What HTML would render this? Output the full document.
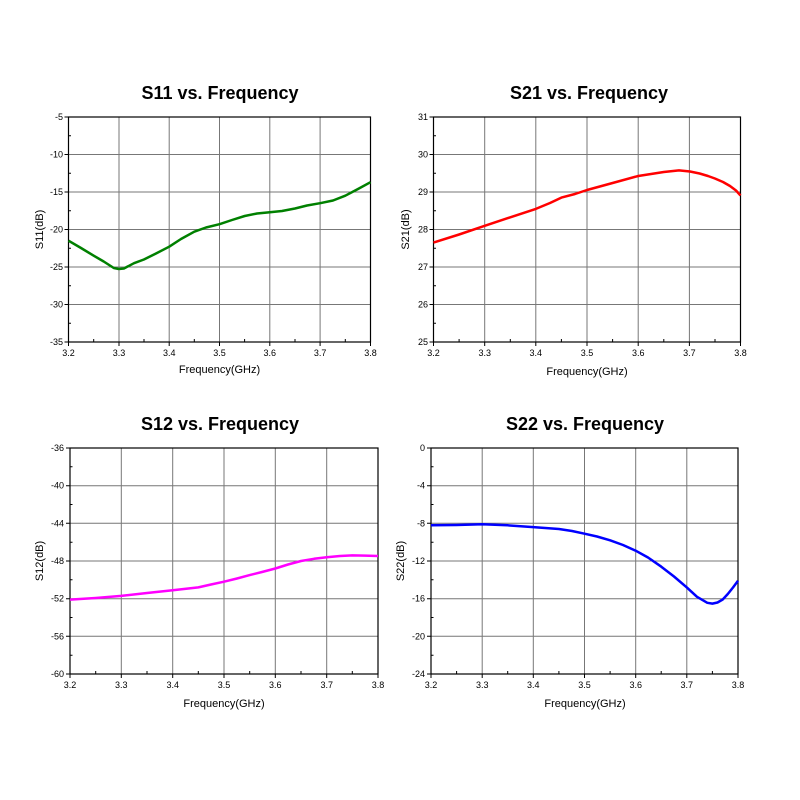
<!DOCTYPE html>
<html><head><style>body{margin:0;background:#fff}svg{display:block}text{font-family:"Liberation Sans",Arial,sans-serif}</style></head><body>
<svg width="800" height="800" xmlns="http://www.w3.org/2000/svg">
<g font-size="18" font-weight="bold" text-anchor="middle">
<text x="220" y="99">S11 vs. Frequency</text>
<text x="589" y="99">S21 vs. Frequency</text>
<text x="220" y="430">S12 vs. Frequency</text>
<text x="585" y="430">S22 vs. Frequency</text>
</g>

<!-- Plot 1 -->
<g stroke="#777" stroke-width="1">
<path d="M119,117V342M169.2,117V342M219.5,117V342M269.8,117V342M320.1,117V342M68.5,154.5H370.5M68.5,192H370.5M68.5,229.5H370.5M68.5,267H370.5M68.5,304.5H370.5"/>
</g>
<rect x="68.5" y="117" width="302" height="225" fill="none" stroke="#000" stroke-width="1.2"/>
<g stroke="#000"><path d="M64.5,117h4M64.5,154.5h4M64.5,192h4M64.5,229.5h4M64.5,267h4M64.5,304.5h4M64.5,342h4M68.5,135.75h2.5M68.5,173.25h2.5M68.5,210.75h2.5M68.5,248.25h2.5M68.5,285.75h2.5M68.5,323.25h2.5M68.5,342v4M119,342v4M169.2,342v4M219.5,342v4M269.8,342v4M320.1,342v4M370.5,342v4M93.7,342v-3M144,342v-3M194.3,342v-3M244.6,342v-3M295,342v-3M345.3,342v-3"/></g>
<g font-size="9" text-anchor="end"><text x="63" y="120">-5</text><text x="63" y="157.5">-10</text><text x="63" y="195">-15</text><text x="63" y="232.5">-20</text><text x="63" y="270">-25</text><text x="63" y="307.5">-30</text><text x="63" y="345">-35</text></g>
<g font-size="9" text-anchor="middle"><text x="68.5" y="356">3.2</text><text x="119" y="356">3.3</text><text x="169.2" y="356">3.4</text><text x="219.5" y="356">3.5</text><text x="269.8" y="356">3.6</text><text x="320.1" y="356">3.7</text><text x="370.5" y="356">3.8</text></g>
<text x="219.5" y="373" font-size="11" text-anchor="middle">Frequency(GHz)</text>
<text transform="translate(43,229.5) rotate(-90)" font-size="11" text-anchor="middle">S11(dB)</text>
<polyline fill="none" stroke="#008000" stroke-width="2.5" stroke-linejoin="round" points="68.5,240.7 81,248 93.7,255.7 103.7,261.5 113.8,268 118.8,269 123.9,268.5 134,263.2 143.9,259.5 156,253.5 169.2,246.7 181,239 194.3,231.7 206,227.5 219.5,224.2 232,220 244.7,216 257,213.5 269.8,212.2 282,211 295,208.5 307,205.5 320.1,203.2 333,200.5 345.3,195.7 358,189 370.5,182.2"/>

<!-- Plot 2 -->
<g stroke="#777" stroke-width="1">
<path d="M484.7,117V342M535.8,117V342M587,117V342M638.2,117V342M689.4,117V342M433.5,154.5H740.5M433.5,192H740.5M433.5,229.5H740.5M433.5,267H740.5M433.5,304.5H740.5"/>
</g>
<rect x="433.5" y="117" width="307" height="225" fill="none" stroke="#000" stroke-width="1.2"/>
<g stroke="#000"><path d="M429.5,117h4M429.5,154.5h4M429.5,192h4M429.5,229.5h4M429.5,267h4M429.5,304.5h4M429.5,342h4M433.5,135.75h2.5M433.5,173.25h2.5M433.5,210.75h2.5M433.5,248.25h2.5M433.5,285.75h2.5M433.5,323.25h2.5M433.5,342v4M484.7,342v4M535.8,342v4M587,342v4M638.2,342v4M689.4,342v4M740.5,342v4M459.1,342v-3M510.3,342v-3M561.4,342v-3M612.6,342v-3M663.8,342v-3M715,342v-3"/></g>
<g font-size="9" text-anchor="end"><text x="428" y="120">31</text><text x="428" y="157.5">30</text><text x="428" y="195">29</text><text x="428" y="232.5">28</text><text x="428" y="270">27</text><text x="428" y="307.5">26</text><text x="428" y="345">25</text></g>
<g font-size="9" text-anchor="middle"><text x="433.5" y="356">3.2</text><text x="484.7" y="356">3.3</text><text x="535.8" y="356">3.4</text><text x="587" y="356">3.5</text><text x="638.2" y="356">3.6</text><text x="689.4" y="356">3.7</text><text x="740.5" y="356">3.8</text></g>
<text x="587" y="375" font-size="11" text-anchor="middle">Frequency(GHz)</text>
<text transform="translate(409,229.5) rotate(-90)" font-size="11" text-anchor="middle">S21(dB)</text>
<polyline fill="none" stroke="#ff0000" stroke-width="2.5" stroke-linejoin="round" points="433.5,242.6 459.1,234.5 484.7,225.8 510.3,217.3 535.8,208.9 550,203 561.4,197.6 575,194 587,190 612.6,183 638.2,176 663.8,172 679,170.4 690,171.5 699.6,173.5 708,176 714.9,178.5 723,182 730,186 736,190.5 740.5,195.5"/>

<!-- Plot 3 -->
<g stroke="#777" stroke-width="1">
<path d="M121.3,448V674M172.7,448V674M224,448V674M275.3,448V674M326.7,448V674M70,485.7H378M70,523.3H378M70,561H378M70,598.7H378M70,636.3H378"/>
</g>
<rect x="70" y="448" width="308" height="226" fill="none" stroke="#000" stroke-width="1.2"/>
<g stroke="#000"><path d="M66,448h4M66,485.7h4M66,523.3h4M66,561h4M66,598.7h4M66,636.3h4M66,674h4M70,466.8h2.5M70,504.5h2.5M70,542.2h2.5M70,579.8h2.5M70,617.5h2.5M70,655.2h2.5M70,674v4M121.3,674v4M172.7,674v4M224,674v4M275.3,674v4M326.7,674v4M378,674v4M95.7,674v-3M147,674v-3M198.3,674v-3M249.7,674v-3M301,674v-3M352.3,674v-3"/></g>
<g font-size="9" text-anchor="end"><text x="64" y="451">-36</text><text x="64" y="488.7">-40</text><text x="64" y="526.3">-44</text><text x="64" y="564">-48</text><text x="64" y="601.7">-52</text><text x="64" y="639.3">-56</text><text x="64" y="677">-60</text></g>
<g font-size="9" text-anchor="middle"><text x="70" y="688">3.2</text><text x="121.3" y="688">3.3</text><text x="172.7" y="688">3.4</text><text x="224" y="688">3.5</text><text x="275.3" y="688">3.6</text><text x="326.7" y="688">3.7</text><text x="378" y="688">3.8</text></g>
<text x="224" y="707" font-size="11" text-anchor="middle">Frequency(GHz)</text>
<text transform="translate(43,561) rotate(-90)" font-size="11" text-anchor="middle">S12(dB)</text>
<polyline fill="none" stroke="#ff00ff" stroke-width="2.5" stroke-linejoin="round" points="70,599.6 95.7,598 121.3,595.9 147,593 172.7,590.2 198.3,587.4 211,584.5 224,581.7 237,578.5 249.7,575.1 262,572 275.3,568.5 288,564.5 301,561 314,558.8 326.7,557.2 340,556 352.3,555.4 365,555.6 378,556"/>

<!-- Plot 4 -->
<g stroke="#777" stroke-width="1">
<path d="M482.2,448V674M533.3,448V674M584.5,448V674M635.7,448V674M686.8,448V674M431,485.7H738M431,523.3H738M431,561H738M431,598.7H738M431,636.3H738"/>
</g>
<rect x="431" y="448" width="307" height="226" fill="none" stroke="#000" stroke-width="1.2"/>
<g stroke="#000"><path d="M427,448h4M427,485.7h4M427,523.3h4M427,561h4M427,598.7h4M427,636.3h4M427,674h4M431,466.8h2.5M431,504.5h2.5M431,542.2h2.5M431,579.8h2.5M431,617.5h2.5M431,655.2h2.5M431,674v4M482.2,674v4M533.3,674v4M584.5,674v4M635.7,674v4M686.8,674v4M738,674v4M456.6,674v-3M507.7,674v-3M558.9,674v-3M610.1,674v-3M661.2,674v-3M712.4,674v-3"/></g>
<g font-size="9" text-anchor="end"><text x="425" y="451">0</text><text x="425" y="488.7">-4</text><text x="425" y="526.3">-8</text><text x="425" y="564">-12</text><text x="425" y="601.7">-16</text><text x="425" y="639.3">-20</text><text x="425" y="677">-24</text></g>
<g font-size="9" text-anchor="middle"><text x="431" y="688">3.2</text><text x="482.2" y="688">3.3</text><text x="533.3" y="688">3.4</text><text x="584.5" y="688">3.5</text><text x="635.7" y="688">3.6</text><text x="686.8" y="688">3.7</text><text x="738" y="688">3.8</text></g>
<text x="585" y="707" font-size="11" text-anchor="middle">Frequency(GHz)</text>
<text transform="translate(404,561) rotate(-90)" font-size="11" text-anchor="middle">S22(dB)</text>
<polyline fill="none" stroke="#0000ff" stroke-width="2.5" stroke-linejoin="round" points="431,525.2 456.6,525 482.2,524.3 507.7,525.3 533.3,527.1 558.9,529 572,531 584.5,533.7 597,536.5 610.1,540.3 623,545 635.7,550.7 648,557.5 661.3,566.7 674,576.5 686.8,587.4 697,596.8 707.3,602.8 712.4,603.6 717.5,602.5 722.7,599.5 727.8,594 733,587.5 738,580.8"/>
</svg>
</body></html>
